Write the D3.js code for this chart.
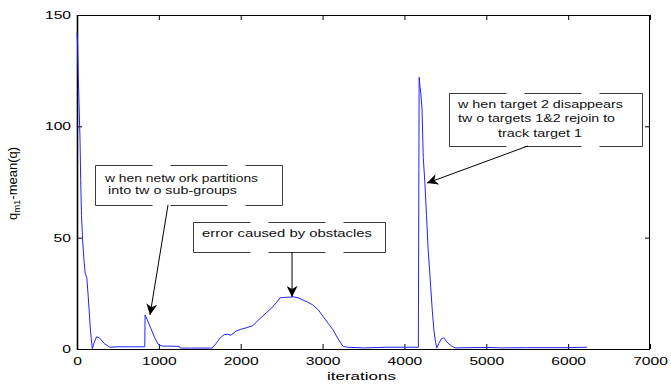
<!DOCTYPE html>
<html><head><meta charset="utf-8">
<script src="https://cdn.jsdelivr.net/npm/d3@7"></script>
<style>
html,body{margin:0;padding:0;background:#fff;}
svg{display:block;font-family:"Liberation Sans",Arial,sans-serif;}
</style></head>
<body>
<svg id="chart" width="671" height="385"></svg>
<script>
// ---- data ----
const iterations = [0, 8, 15, 25, 37, 45, 55, 70, 85, 100, 120, 140, 165, 180, 188, 210, 240, 280, 330, 400, 500, 650, 828, 832, 860, 900, 950, 990, 1040, 1100, 1250, 1260, 1400, 1650, 1700, 1750, 1800, 1840, 1880, 1950, 2000, 2075, 2150, 2200, 2260, 2320, 2380, 2440, 2480, 2550, 2650, 2700, 2760, 2820, 2880, 2950, 3010, 3070, 3130, 3190, 3250, 3300, 3500, 3800, 4000, 4170, 4180, 4190, 4200, 4215, 4230, 4250, 4270, 4290, 4310, 4340, 4360, 4380, 4395, 4420, 4450, 4480, 4530, 4580, 4620, 4800, 5000, 5200, 5500, 6000, 6230];
const errorValues = [142, 136, 124, 110, 94, 76, 60, 48, 40, 34, 32, 22, 8, 2.7, 0, 3, 5.5, 4.8, 2.5, 0.8, 1.0, 1.0, 1.0, 15.3, 13, 9.5, 5, 2.2, 1.3, 1.3, 1.2, 0.4, 0.4, 0.4, 2.5, 5, 6.5, 6.6, 6.2, 8.2, 8.8, 9.6, 10.5, 12.5, 14.5, 16.5, 18.5, 21, 23, 23.2, 23.4, 23, 22, 21, 19.8, 17.5, 14.4, 11.5, 8.5, 4.5, 1.2, 0.8, 0.5, 0.8, 0.8, 0.8, 122, 118, 115, 108, 86, 74.5, 60, 44.5, 34, 17.5, 8.5, 3, 0.5, 2.5, 4.5, 5, 2.7, 1.2, 0.5, 0.6, 0.7, 0.5, 0.6, 0.6, 0.8];
const xTicks = [0, 1000, 2000, 3000, 4000, 5000, 6000, 7000];
const yTicks = [0, 50, 100, 150];
const xLabel = "iterations";
const yLabelMain = "q";
const yLabelSub = "m1";
const yLabelRest = "-mean(q)";
// annotation boxes in data coordinates [x0, x1] iterations, [yTop, yBottom] values
const annoText = [
  ["w hen netw ork partitions", "into tw o sub-groups"],
  ["error caused by obstacles"],
  ["w hen target 2 disappears", "tw o targets 1&2 rejoin to", "track target 1"]
];
const annoBoxX = [[220, 2504], [1417, 3763], [4545, 6902]];
const annoBoxY = [[82.6, 64.7], [57.0, 43.6], [115.0, 91.2]];
const annoTail = [[1112, 64.7], [2627, 43.6], [5510, 91.2]];
const annoTip = [[892, 15.3], [2627, 23.4], [4276, 74.5]];

// ---- layout ----
const L = 77, R = 650, T = 15, B = 349;
const svg = d3.select("#chart");
const x = d3.scaleLinear().domain([0, 7000]).range([L, R]);
const y = d3.scaleLinear().domain([0, 150]).range([B, T]);
const SX = 1.42;

// axes
const gx = svg.append("g").attr("transform", `translate(0,${B})`)
  .call(d3.axisBottom(x).tickValues(xTicks).tickSizeInner(-5).tickSizeOuter(0).tickPadding(8).tickFormat(d3.format("d")));
const gxt = svg.append("g").attr("transform", `translate(0,${T})`)
  .call(d3.axisTop(x).tickValues(xTicks).tickSizeInner(-5).tickSizeOuter(0).tickFormat(""));
const gy = svg.append("g").attr("transform", `translate(${L},0)`)
  .call(d3.axisLeft(y).tickValues(yTicks).tickSizeInner(-5).tickSizeOuter(0).tickFormat(d3.format("d")));
const gyr = svg.append("g").attr("transform", `translate(${R},0)`)
  .call(d3.axisRight(y).tickValues(yTicks).tickSizeInner(-5).tickSizeOuter(0).tickFormat(""));
[gx, gxt, gy, gyr].forEach(g => {
  g.select(".domain").remove();
  g.selectAll(".tick line").attr("stroke", "#000").attr("stroke-width", 1);
  g.selectAll("text").attr("font-family", "'Liberation Sans', Arial, sans-serif")
    .attr("font-size", 11).attr("fill", "#000");
});
gx.selectAll(".tick text").attr("transform", `scale(${SX},1)`);
gy.selectAll(".tick text").attr("x", -6 / SX).attr("transform", `scale(${SX},1)`);

// frame
svg.append("rect").attr("x", L + 0.5).attr("y", T + 0.5).attr("width", R - L - 1).attr("height", B - T)
  .attr("fill", "none").attr("stroke", "#000").attr("stroke-width", 1);
svg.append("line").attr("x1", L + 0.5).attr("x2", L + 0.5).attr("y1", T).attr("y2", B + 1)
  .attr("stroke", "#000").attr("stroke-width", 1.6);

// data line
const pts = iterations.map((d, i) => [d, errorValues[i]]);
svg.append("path").datum(pts)
  .attr("d", d3.line().x(d => x(d[0])).y(d => y(d[1])))
  .attr("fill", "none").attr("stroke", "#2222ff").attr("stroke-width", 1);

// labels
svg.append("text").attr("x", 0).attr("y", 0)
  .attr("transform", `translate(${(327 + 396) / 2},380)`)
  .attr("text-anchor", "middle").attr("font-size", 11)
  .attr("textLength", 69).attr("lengthAdjust", "spacingAndGlyphs")
  .text(xLabel);
const yl = svg.append("text").attr("transform", "translate(16.5,183.5) rotate(-90)")
  .attr("text-anchor", "middle").attr("font-size", 13);
yl.append("tspan").text(yLabelMain);
yl.append("tspan").attr("font-size", 9.5).attr("dy", 3).text(yLabelSub);
yl.append("tspan").attr("dy", -3).text(yLabelRest);

// arrow marker
const defs = svg.append("defs");
defs.append("marker").attr("id", "ah").attr("viewBox", "0 0 12 12")
  .attr("refX", 12).attr("refY", 6).attr("markerWidth", 11).attr("markerHeight", 11)
  .attr("markerUnits", "userSpaceOnUse").attr("orient", "auto")
  .append("path").attr("d", "M0,0 L12,6 L0,12 L3.5,6 Z").attr("fill", "#000");

// annotations
const textLayout = [
  {lines: [[105, 182, 153, "start"], [108, 194, 129, "start"]]},
  {lines: [[202, 237, 170, "start"]]},
  {lines: [[458, 108, 165, "start"], [458, 122, 157, "start"], [498, 137, 84, "start"]]}
];
annoText.forEach((lines, i) => {
  const x0 = Math.round(x(annoBoxX[i][0])) + 0.5, x1 = Math.round(x(annoBoxX[i][1])) + 0.5;
  const y0 = Math.round(y(annoBoxY[i][0])) + 0.5, y1 = Math.round(y(annoBoxY[i][1])) + 0.5;
  const g = svg.append("g");
  const st = "#3a3a3a";
  g.append("line").attr("x1", x0).attr("x2", x1).attr("y1", y0).attr("y2", y0)
    .attr("stroke", st).attr("stroke-dasharray", "57,18");
  g.append("line").attr("x1", x0).attr("x2", x1).attr("y1", y1).attr("y2", y1)
    .attr("stroke", st).attr("stroke-dasharray", "57,18");
  g.append("line").attr("x1", x0).attr("x2", x0).attr("y1", y0).attr("y2", y1).attr("stroke", st);
  g.append("line").attr("x1", x1).attr("x2", x1).attr("y1", y0).attr("y2", y1).attr("stroke", st);
  lines.forEach((t, j) => {
    const lay = textLayout[i].lines[j];
    g.append("text").attr("x", lay[0]).attr("y", lay[1]).attr("font-size", 11)
      .attr("textLength", lay[2]).attr("lengthAdjust", "spacingAndGlyphs")
      .attr("fill", "#111").text(t);
  });
  svg.append("line")
    .attr("x1", x(annoTail[i][0])).attr("y1", y(annoTail[i][1]))
    .attr("x2", x(annoTip[i][0])).attr("y2", y(annoTip[i][1]))
    .attr("stroke", "#000").attr("stroke-width", 1).attr("marker-end", "url(#ah)");
});
</script>
</body></html>
